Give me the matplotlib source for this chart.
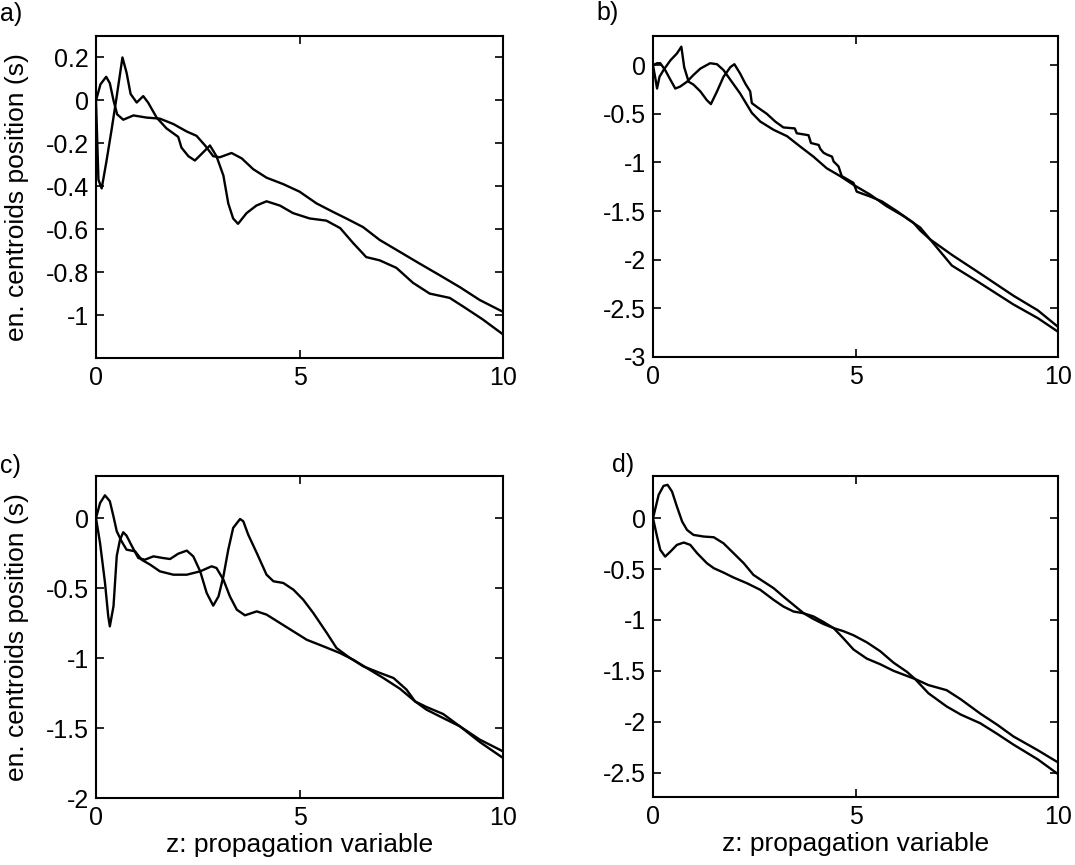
import matplotlib
matplotlib.use("Agg")
import matplotlib.pyplot as plt

plt.rcParams['font.family'] = ['Liberation Sans', 'DejaVu Sans']
plt.rcParams['axes.unicode_minus'] = False

# panel a)
a1_z = [0, 0.11, 0.25, 0.34, 0.43, 0.52, 0.67, 0.92, 1.24, 1.57, 1.9, 2.23, 2.47, 2.68, 2.88,
        3.04, 3.33, 3.58, 3.86, 4.19, 4.6, 5.0, 5.42, 5.83, 6.15, 6.56, 6.97, 7.46, 7.95,
        8.45, 8.94, 9.43, 10]
a1_c = [0, 0.075, 0.11, 0.08, 0.0, -0.065, -0.09, -0.07, -0.08, -0.085, -0.11, -0.145, -0.165,
        -0.21, -0.26, -0.265, -0.245, -0.27, -0.32, -0.36, -0.39, -0.425, -0.48, -0.52, -0.55,
        -0.59, -0.65, -0.705, -0.76, -0.815, -0.87, -0.93, -0.985]
a2_z = [0, 0.06, 0.14, 0.26, 0.38, 0.51, 0.65, 0.75, 0.85, 1.0, 1.16, 1.28, 1.49, 1.73, 2.02,
        2.1, 2.27, 2.43, 2.59, 2.8, 2.96, 3.13, 3.25, 3.37, 3.49, 3.7, 3.94, 4.19, 4.52, 4.84,
        5.25, 5.66, 6.0, 6.32, 6.64, 6.97, 7.38, 7.79, 8.2, 8.69, 9.02, 9.5, 10]
a2_c = [0, -0.37, -0.41, -0.28, -0.14, 0.02, 0.2, 0.13, 0.03, -0.01, 0.02, -0.01, -0.08, -0.13,
        -0.17, -0.22, -0.26, -0.28, -0.25, -0.21, -0.26, -0.35, -0.48, -0.55, -0.575, -0.525,
        -0.49, -0.47, -0.49, -0.525, -0.55, -0.56, -0.595, -0.665, -0.73, -0.745, -0.78, -0.85,
        -0.9, -0.92, -0.96, -1.02, -1.09]

# panel b)
b1_z = [0, 0.06, 0.1, 0.16, 0.26, 0.43, 0.59, 0.7, 0.77, 0.88, 1.0, 1.17, 1.33, 1.43, 1.58,
        1.74, 1.91, 2.01, 2.15, 2.28, 2.4, 2.44, 2.57, 2.81, 3.02, 3.22, 3.5, 3.55, 3.84, 3.9,
        4.09, 4.13, 4.21, 4.3, 4.42, 4.46, 4.58, 4.66, 4.95, 5.03, 5.36, 5.65, 6.02, 6.43, 6.6,
        6.84, 7.38, 8.0, 8.9, 9.5, 10]
b1_c = [0, -0.14, -0.24, -0.12, -0.05, 0.05, 0.12, 0.19, -0.02, -0.17, -0.2, -0.27, -0.36,
        -0.4, -0.27, -0.12, -0.02, 0.01, -0.085, -0.19, -0.27, -0.39, -0.43, -0.5, -0.58,
        -0.64, -0.65, -0.7, -0.72, -0.8, -0.82, -0.86, -0.9, -0.92, -0.94, -0.99, -1.04, -1.14,
        -1.21, -1.3, -1.35, -1.4, -1.5, -1.62, -1.7, -1.79, -2.06, -2.22, -2.46, -2.6, -2.74]
b2_z = [0, 0.1, 0.18, 0.3, 0.43, 0.55, 0.67, 0.84, 1.0, 1.17, 1.41, 1.58, 1.74, 1.91, 2.15,
        2.44, 2.65, 2.98, 3.31, 3.63, 3.96, 4.29, 4.62, 4.95, 5.36, 5.77, 6.18, 6.6, 6.84,
        7.38, 8.0, 8.9, 9.5, 10]
b2_c = [0, 0.02, 0.02, -0.05, -0.15, -0.24, -0.22, -0.17, -0.1, -0.035, 0.02, 0.01, -0.05,
        -0.15, -0.29, -0.49, -0.58, -0.665, -0.73, -0.835, -0.94, -1.06, -1.14, -1.23, -1.33,
        -1.45, -1.55, -1.67, -1.79, -1.95, -2.12, -2.37, -2.52, -2.69]

# panel c)
c1_z = [0, 0.1, 0.22, 0.34, 0.43, 0.51, 0.63, 0.75, 0.96, 1.12, 1.33, 1.57, 1.9, 2.23, 2.56,
        2.84, 2.96, 3.13, 3.29, 3.46, 3.66, 3.95, 4.19, 4.52, 4.85, 5.18, 5.59, 5.99, 6.32,
        6.65, 7.06, 7.47, 7.84, 8.12, 8.53, 8.94, 9.43, 10]
c1_c = [0, 0.107, 0.162, 0.12, 0.01, -0.095, -0.167, -0.226, -0.238, -0.298, -0.333, -0.381,
        -0.405, -0.405, -0.381, -0.345, -0.357, -0.44, -0.56, -0.655, -0.695, -0.667, -0.69,
        -0.75, -0.81, -0.87, -0.917, -0.964, -1.012, -1.071, -1.143, -1.22, -1.31, -1.35,
        -1.4, -1.488, -1.6, -1.714]
c2_z = [0, 0.1, 0.22, 0.3, 0.34, 0.43, 0.51, 0.59, 0.67, 0.75, 0.88, 1.04, 1.2, 1.41, 1.65,
        1.82, 2.02, 2.23, 2.39, 2.56, 2.72, 2.88, 3.01, 3.13, 3.25, 3.37, 3.54, 3.62, 3.74,
        3.95, 4.19, 4.36, 4.6, 4.85, 5.09, 5.34, 5.67, 5.91, 6.24, 6.57, 6.98, 7.31, 7.63,
        7.84, 8.12, 8.53, 8.94, 9.43, 10]
c2_c = [0, -0.18, -0.46, -0.7, -0.774, -0.63, -0.27, -0.155, -0.102, -0.126, -0.2, -0.286,
        -0.298, -0.274, -0.286, -0.293, -0.255, -0.233, -0.274, -0.381, -0.536, -0.626, -0.56,
        -0.417, -0.226, -0.071, -0.007, -0.024, -0.119, -0.25, -0.405, -0.452, -0.464, -0.512,
        -0.583, -0.679, -0.821, -0.929, -1.0, -1.06, -1.107, -1.143, -1.226, -1.31, -1.369,
        -1.429, -1.488, -1.583, -1.667]

# panel d)
d1_z = [0, 0.14, 0.26, 0.36, 0.47, 0.59, 0.72, 0.84, 1.0, 1.25, 1.5, 1.74, 1.99, 2.24, 2.48,
        2.73, 2.98, 3.22, 3.47, 3.72, 3.96, 4.21, 4.46, 4.7, 4.95, 5.28, 5.61, 5.94, 6.27,
        6.47, 6.8, 7.25, 7.6, 8.08, 8.5, 8.9, 9.5, 10]
d1_c = [0, 0.23, 0.318, 0.328, 0.262, 0.115, -0.033, -0.115, -0.164, -0.18, -0.187, -0.246,
        -0.344, -0.442, -0.557, -0.623, -0.688, -0.77, -0.852, -0.934, -0.99, -1.04, -1.08,
        -1.11, -1.15, -1.22, -1.307, -1.42, -1.51, -1.58, -1.72, -1.85, -1.93, -2.015, -2.12,
        -2.225, -2.37, -2.515]
d2_z = [0, 0.1, 0.18, 0.3, 0.43, 0.59, 0.76, 0.92, 1.09, 1.33, 1.5, 1.74, 1.99, 2.32, 2.65,
        2.98, 3.22, 3.47, 3.72, 3.96, 4.21, 4.46, 4.7, 4.95, 5.28, 5.61, 5.94, 6.27, 6.47, 6.8,
        7.25, 7.6, 8.08, 8.5, 8.9, 9.5, 10]
d2_c = [0, -0.18, -0.311, -0.377, -0.328, -0.262, -0.239, -0.262, -0.344, -0.442, -0.491,
        -0.534, -0.583, -0.639, -0.704, -0.803, -0.868, -0.917, -0.934, -0.965, -1.02, -1.08,
        -1.18, -1.29, -1.38, -1.435, -1.5, -1.55, -1.58, -1.64, -1.69, -1.78, -1.92, -2.03,
        -2.145, -2.28, -2.4]

a_yticks = [-1, -0.8, -0.6, -0.4, -0.2, 0, 0.2]
b_yticks = [-3, -2.5, -2, -1.5, -1, -0.5, 0]
c_yticks = [-2, -1.5, -1, -0.5, 0]
d_yticks = [-2.5, -2, -1.5, -1, -0.5, 0]
x_ticks = [0, 5, 10]

panels = [
    ("a)", [96, 36, 503, 358], (-1.2, 0.3), a_yticks, [(a1_z, a1_c), (a2_z, a2_c)]),
    ("b)", [653, 36, 1058, 357], (-3, 0.3), b_yticks, [(b1_z, b1_c), (b2_z, b2_c)]),
    ("c)", [96, 476, 503, 798], (-2, 0.3), c_yticks, [(c1_z, c1_c), (c2_z, c2_c)]),
    ("d)", [653, 476, 1058, 797], (-2.74, 0.415), d_yticks, [(d1_z, d1_c), (d2_z, d2_c)]),
]
label_pos = {"a)": (0, 14), "b)": (596, 13), "c)": (0, 466), "d)": (612, 465)}

W, H = 1075, 865
fig = plt.figure(figsize=(W / 100, H / 100), dpi=100)

def fmt(v):
    return '%g' % v

for name, (l, t, r, b), ylim, yticks, series in panels:
    ax = fig.add_axes([l / W, 1 - b / H, (r - l) / W, (b - t) / H])
    for z, c in series:
        ax.plot(z, c, color='black', lw=1.7)
    ax.set_xlim(0, 10)
    ax.set_ylim(*ylim)
    ax.set_xticks(x_ticks)
    ax.set_xticklabels([fmt(v) for v in x_ticks])
    ax.set_yticks(yticks)
    ax.set_yticklabels([fmt(v) for v in yticks])
    ax.tick_params(direction='in', top=True, right=True, length=6, width=1.2,
                   labelsize=18)
    ax.tick_params(axis='x', pad=6)
    ax.tick_params(axis='y', pad=5)
    for sp in ax.spines.values():
        sp.set_linewidth(1.5)
    if name in ("a)", "c)"):
        ax.set_ylabel("en. centroids position (s)", fontsize=19)
        ax.yaxis.set_label_coords(-0.165, 0.5)
    if name in ("c)", "d)"):
        ax.set_xlabel("z: propagation variable", fontsize=19)
        ax.xaxis.set_label_coords(0.5, -0.108)
    lx, ly = label_pos[name]
    fig.text(lx / W, 1 - ly / H, name, fontsize=18, ha='left', va='center')

fig.savefig("out.png", dpi=100)
